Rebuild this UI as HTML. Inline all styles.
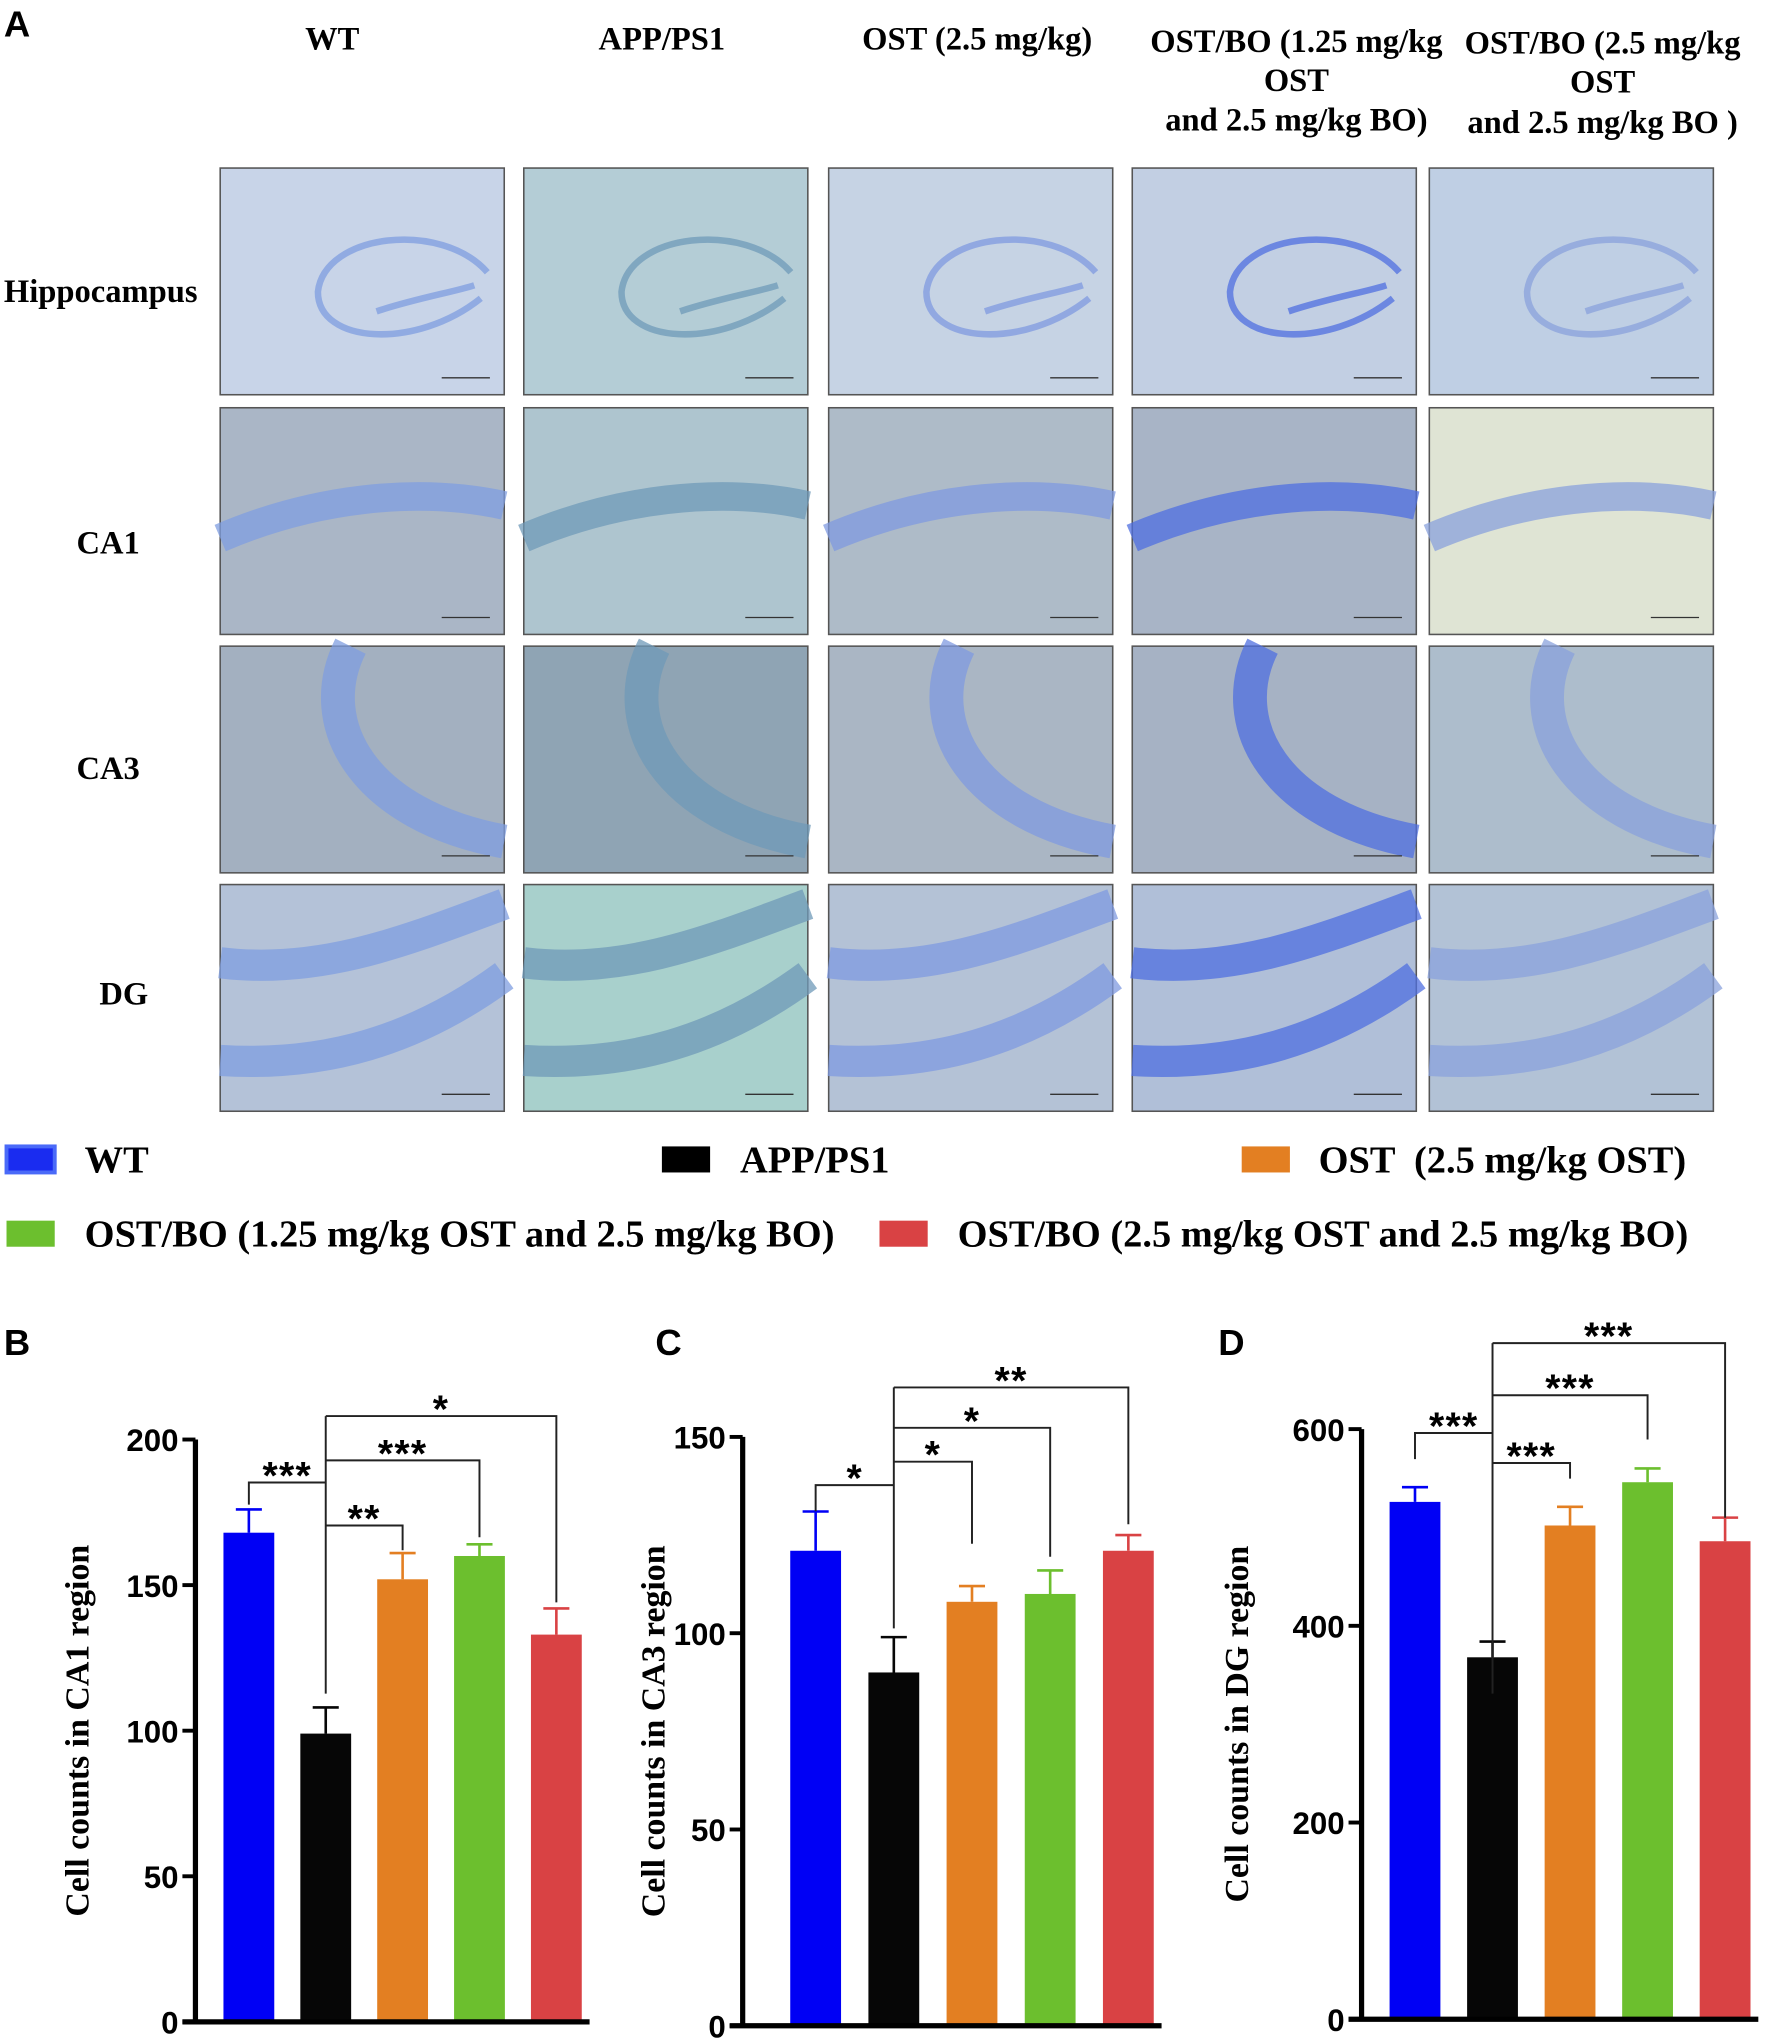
<!DOCTYPE html>
<html><head><meta charset="utf-8">
<style>
html,body{margin:0;padding:0;background:#fff;}
svg{display:block;}
.hdr{font-family:"Liberation Serif",serif;font-weight:bold;font-size:25px;fill:#000;}
.leg{font-family:"Liberation Serif",serif;font-weight:bold;font-size:29.5px;fill:#000;}
.tick{font-family:"Liberation Sans",sans-serif;font-weight:bold;font-size:24px;fill:#000;}
.ytitle{font-family:"Liberation Serif",serif;font-weight:bold;font-size:26px;fill:#000;}
.star{font-family:"Liberation Sans",sans-serif;font-weight:bold;font-size:30px;fill:#000;letter-spacing:1px;}
.plabel{font-family:"Liberation Sans",sans-serif;font-weight:bold;font-size:28px;fill:#000;}
</style></head>
<body>
<svg id="fig" width="1772" height="2044" viewBox="0 0 1360 1569" preserveAspectRatio="none" xmlns="http://www.w3.org/2000/svg">
<text class="plabel" x="3" y="28">A</text>
<g>
<text class="hdr" x="255" y="38" text-anchor="middle">WT</text>
<text class="hdr" x="508" y="38" text-anchor="middle">APP/PS1</text>
<text class="hdr" x="750" y="38" text-anchor="middle">OST (2.5 mg/kg)</text>
<text class="hdr" x="995" y="40" text-anchor="middle"><tspan x="995">OST/BO (1.25 mg/kg</tspan><tspan x="995" dy="30">OST</tspan><tspan x="995" dy="30">and 2.5 mg/kg BO)</tspan></text>
<text class="hdr" x="1230" y="41" text-anchor="middle"><tspan x="1230">OST/BO (2.5 mg/kg</tspan><tspan x="1230" dy="30">OST</tspan><tspan x="1230" dy="31">and 2.5 mg/kg BO )</tspan></text>
</g>
<g>
<text class="hdr" x="3" y="232">Hippocampus</text>
<text class="hdr" x="83" y="425" text-anchor="middle">CA1</text>
<text class="hdr" x="83" y="598" text-anchor="middle">CA3</text>
<text class="hdr" x="95" y="771" text-anchor="middle">DG</text>
</g>
<g id="micro"></g>
<g>
<rect x="5" y="880" width="37" height="20" fill="#1a2cf0" stroke="#4a6af8" stroke-width="3"/>
<text class="leg" x="65" y="900">WT</text>
<rect x="508" y="880" width="37" height="20" fill="#000"/>
<text class="leg" x="568" y="900">APP/PS1</text>
<rect x="953" y="880" width="37" height="20" fill="#e37f22"/>
<text class="leg" x="1012" y="900" xml:space="preserve">OST  (2.5 mg/kg OST)</text>
<rect x="5" y="937" width="37" height="20" fill="#6cbf2e"/>
<text class="leg" x="65" y="957">OST/BO (1.25 mg/kg OST and 2.5 mg/kg BO)</text>
<rect x="675" y="937" width="37" height="20" fill="#d94244"/>
<text class="leg" x="735" y="957">OST/BO (2.5 mg/kg OST and 2.5 mg/kg BO)</text>
</g>
<g id="charts"></g>
</svg>
<script>
// Chart data
const groups = ["WT","APP/PS1","OST","OST/BO low","OST/BO high"];
const colors = ["#0000f5","#060606","#e37f22","#6cbf2e","#d94244"];
const ca1Means = [168, 99, 152, 160, 133];
const ca1Errs = [8, 9, 9, 4, 9];
const ca1Ticks = [0, 50, 100, 150, 200];
const ca3Means = [121, 90, 108, 110, 121];
const ca3Errs = [10, 9, 4, 6, 4];
const ca3Ticks = [0, 50, 100, 150];
const dgMeans = [526, 368, 502, 546, 486];
const dgErrs = [15, 16, 19, 14, 24];
const dgTicks = [0, 200, 400, 600];
// significance labels: [WT vs APP, APP vs OST, APP vs OST/BO low, APP vs OST/BO high]
const ca1Sig = ["***","**","***","*"];
const ca3Sig = ["*","*","*","**"];
const dgSig = ["***","***","***","***"];

const NS="http://www.w3.org/2000/svg";
function mk(tag, attrs, parent){const e=document.createElementNS(NS,tag);for(const k in attrs)e.setAttribute(k,attrs[k]);parent.appendChild(e);return e;}

// micrographs
const micro=document.getElementById('micro');
const colX=[169,402,636,869,1097], rowY=[129,313,496,679], pw=218, ph=174;
const bg=[["#c8d4e8","#b4cdd6","#c6d3e4","#c2cfe3","#bfcfe4"],
["#aab6c6","#aec5cf","#aebbc8","#a8b4c6","#dfe4d4"],
["#a3b0c0","#8fa4b4","#aab6c4","#a6b2c4","#adbdcc"],
["#b4c2d8","#a8d0cc","#b4c2d6","#b0bfd8","#b2c2d6"]];
const band=["#7f9de0","#6f9ab8","#7f9ae0","#4f6fe0","#8aa2dc"];
for(let r=0;r<4;r++)for(let c=0;c<5;c++){
 const x=colX[c],y=rowY[r];
 const g=mk('g',{},micro);
 
 
 mk('rect',{x:x,y:y,width:pw,height:ph,fill:bg[r][c],stroke:'#555','stroke-width':1.2},g);
 let d, sw=14, col=band[c];
 if(r===0){d=`M${x+205} ${y+80} C${x+170} ${y+40},${x+80} ${y+50},${x+75} ${y+95} C${x+75} ${y+135},${x+150} ${y+140},${x+200} ${y+100} M${x+120} ${y+110} C${x+150} ${y+100},${x+180} ${y+95},${x+195} ${y+90}`;sw=5;}
 else if(r===1){d=`M${x} ${y+100} C${x+70} ${y+70},${x+150} ${y+60},${x+218} ${y+75}`;sw=22;}
 else if(r===2){d=`M${x+100} ${y} C${x+70} ${y+60},${x+110} ${y+130},${x+218} ${y+150}`;sw=26;}
 else {d=`M${x} ${y+60} C${x+80} ${y+70},${x+150} ${y+40},${x+218} ${y+15} M${x} ${y+135} C${x+80} ${y+140},${x+150} ${y+120},${x+218} ${y+70}`;sw=24;}
 mk('path',{d:d,fill:'none',stroke:col,'stroke-width':sw,'stroke-opacity':0.75},g);
 mk('line',{x1:x+170,y1:y+161,x2:x+207,y2:y+161,stroke:'#333','stroke-width':1},g);
}

// charts
const charts=document.getElementById('charts');
function chart(o){
 const g=mk('g',{},charts);
 
 
 const ymax=o.ticks[o.ticks.length-1];
 const yS=v=>o.y0-(v/ymax)*(o.y0-o.yTop);
 const xC=i=>o.x0+o.firstC+i*o.step;
 const lbl=mk('text',{class:'plabel',x:o.lx,y:1040},g);lbl.textContent=o.label;
 
 
 o.means.forEach((m,i)=>{
  const b=mk('rect',{x:xC(i)-o.bw/2,y:yS(m),width:o.bw,height:o.y0-yS(m),fill:colors[i]},g);
  
  
  const e=mk('path',{d:`M${xC(i)} ${yS(m)} V${yS(m+o.errs[i])} M${xC(i)-10} ${yS(m+o.errs[i])} H${xC(i)+10}`,stroke:colors[i],'stroke-width':2,fill:'none'},g);
  
  
 });
 const ax=mk('path',{d:`M${o.x0} ${o.yTop} V${o.y0} M${o.x0-10} ${o.y0} H${o.x0+o.firstC+4*o.step+o.bw/2+6}`,stroke:'#000','stroke-width':4,fill:'none'},g);
 
 
 o.ticks.forEach(t=>{
  mk('line',{x1:o.x0-10,x2:o.x0,y1:yS(t),y2:yS(t),stroke:'#000','stroke-width':3},g);
  const tx=mk('text',{class:'tick',x:o.x0-13,y:yS(t)+9,'text-anchor':'end'},g);tx.textContent=t;
  
  
 });
 const yt=mk('text',{class:'ytitle',transform:`translate(${o.tx},${(o.y0+o.yTop)/2}) rotate(-90)`,'text-anchor':'middle'},g);
 yt.textContent=o.title;
 
 
 // brackets: o.br = [[yTop,yLeftEnd],[yTop,yEnd],[yTop,yEnd],[yTop,yEnd]], stemBottom
 const bx=xC(1), br=o.br;
 let p=`M${xC(0)} ${br[0][1]} V${br[0][0]} H${bx}`;
 p+=` M${bx} ${o.stemBottom} V${br[3][0]}`;
 for(let k=1;k<=3;k++){p+=` M${bx} ${br[k][0]} H${xC(k+1)} V${br[k][1]}`;}
 const bp=mk('path',{d:p,stroke:'#222','stroke-width':1.5,fill:'none'},g);
 
 
 o.sig.forEach((s,k)=>{
  const cx = k===0 ? (xC(0)+bx)/2 : (bx+xC(k+1))/2;
  const st=mk('text',{class:'star',x:cx,y:br[k][0]+5,'text-anchor':'middle'},g);
  st.textContent=s;
  
  
 });
}
chart({name:'chart-ca1',label:'B',lx:3,x0:150,y0:1552,yTop:1105,firstC:41,step:59,bw:39,means:ca1Means,errs:ca1Errs,ticks:ca1Ticks,title:'Cell counts in CA1 region',tx:68,br:[[1138,1155],[1171,1190],[1121,1180],[1087,1230]],stemBottom:1300,sig:ca1Sig});
chart({name:'chart-ca3',label:'C',lx:503,x0:570,y0:1555,yTop:1103,firstC:56,step:60,bw:39,means:ca3Means,errs:ca3Errs,ticks:ca3Ticks,title:'Cell counts in CA3 region',tx:510,br:[[1140,1160],[1122,1185],[1096,1195],[1065,1170]],stemBottom:1250,sig:ca3Sig});
chart({name:'chart-dg',label:'D',lx:935,x0:1045,y0:1550,yTop:1097,firstC:41,step:59.5,bw:39,means:dgMeans,errs:dgErrs,ticks:dgTicks,title:'Cell counts in DG region',tx:958,br:[[1100,1120],[1123,1135],[1071,1105],[1031,1165]],stemBottom:1300,sig:dgSig});
</script>
</body></html>
